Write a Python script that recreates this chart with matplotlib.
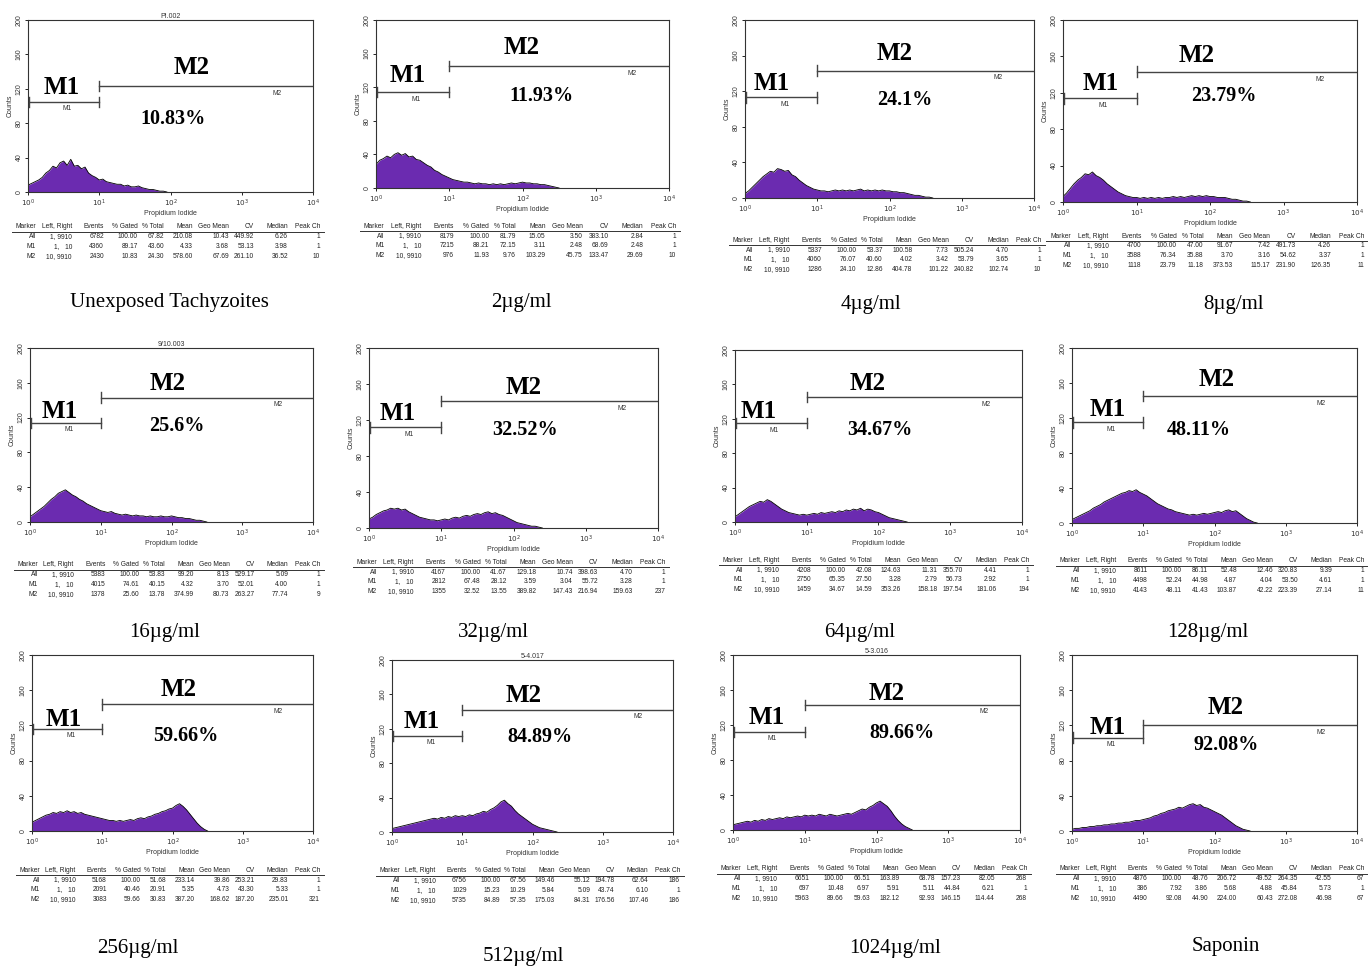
import numpy as np
import matplotlib
matplotlib.use("Agg")
import matplotlib.pyplot as plt

W, H = 1368, 966

# panel captions and gated percentages
captions = ["Unexposed Tachyzoites", "2µg/ml", "4µg/ml", "8µg/ml",
            "16µg/ml", "32µg/ml", "64µg/ml", "128µg/ml",
            "256µg/ml", "512µg/ml", "1024µg/ml", "Saponin"]
pct_labels = ["10.83%", "11.93%", "24.1%", "23.79%", "25.6%", "32.52%",
              "34.67%", "48.11%", "59.66%", "84.89%", "89.66%", "92.08%"]
file_titles = ["PI.002", "", "", "", "9/10.003", "", "", "", "", "5-4.017", "5-3.016", ""]

# marker bar heights (counts)
m1_level = [105, 114, 113, 114, 114, 112, 115, 115, 116, 112, 112, 106]
m2_level = [123, 145, 143, 143, 143, 141, 145, 145, 144, 142, 143, 120]

# histogram counts, one value every 0.05 decade starting at 10^0
LOG_STEP = 0.05
hist_ctrl = [8, 10, 12, 14, 17, 22, 25, 30, 28, 34, 36, 31, 38, 30, 31, 27, 29, 22, 19, 17,
             14, 15, 12, 11, 10, 9, 9, 7, 8, 6, 6, 7, 5, 4, 3, 3, 2, 1, 1, 0]
hist_2 = [28, 33, 35, 38, 36, 40, 42, 39, 41, 37, 38, 34, 33, 30, 27, 25, 21, 19, 16, 14,
          12, 10, 9, 8, 7, 7, 6, 5, 6, 5, 5, 4, 5, 4, 5, 4, 5, 6, 5, 6,
          7, 6, 6, 5, 5, 4, 4, 3, 2, 1, 0]
hist_4 = [5, 8, 12, 16, 20, 24, 27, 30, 29, 33, 32, 30, 31, 26, 24, 20, 17, 14, 12, 10,
          9, 8, 8, 7, 8, 9, 8, 9, 8, 9, 8, 9, 10, 8, 9, 8, 9, 8, 9, 8,
          8, 7, 7, 6, 6, 5, 4, 3, 3, 2, 1, 1, 0]
hist_8 = [6, 10, 15, 20, 24, 27, 31, 30, 33, 29, 27, 24, 20, 17, 14, 11, 9, 7, 6, 5,
          5, 4, 5, 4, 5, 4, 5, 4, 5, 5, 6, 5, 6, 5, 6, 7, 6, 7, 6, 7,
          6, 6, 5, 5, 5, 4, 3, 3, 2, 1, 1, 0]
hist_16 = [6, 9, 12, 15, 18, 22, 26, 29, 33, 35, 37, 34, 31, 29, 26, 24, 21, 19, 17, 15,
           13, 12, 11, 12, 10, 9, 8, 9, 8, 7, 8, 7, 7, 6, 7, 6, 6, 7, 6, 6,
           7, 6, 5, 5, 4, 4, 3, 2, 2, 1, 0]
hist_32 = [10, 12, 15, 17, 19, 20, 22, 21, 22, 20, 21, 18, 16, 14, 12, 11, 10, 9, 9, 8,
           9, 10, 9, 11, 12, 11, 13, 14, 13, 15, 16, 15, 17, 18, 16, 17, 15, 14, 12, 10,
           8, 6, 5, 4, 3, 2, 2, 1, 0]
hist_64 = [6, 9, 12, 15, 18, 20, 22, 24, 23, 26, 24, 21, 18, 15, 13, 11, 10, 9, 8, 9,
           8, 9, 10, 9, 11, 10, 11, 12, 11, 13, 12, 14, 13, 15, 14, 16, 13, 15, 14, 12,
           11, 9, 7, 5, 4, 3, 2, 1, 0]
hist_128 = [4, 6, 8, 10, 12, 14, 17, 19, 21, 24, 26, 28, 30, 32, 34, 35, 37, 36, 38, 35,
            33, 31, 28, 25, 22, 20, 18, 16, 15, 13, 12, 11, 10, 9, 10, 9, 10, 11, 10, 11,
            12, 13, 12, 14, 15, 13, 14, 11, 8, 5, 3, 1, 0]
hist_256 = [10, 12, 14, 16, 18, 19, 21, 20, 22, 21, 23, 21, 22, 20, 21, 19, 18, 17, 16, 15,
            14, 13, 12, 12, 11, 12, 11, 12, 13, 12, 14, 15, 14, 16, 17, 19, 20, 22, 23, 25,
            26, 29, 31, 28, 24, 19, 14, 9, 5, 2, 0]
hist_512 = [4, 5, 6, 7, 8, 9, 10, 11, 12, 13, 14, 15, 16, 15, 17, 16, 18, 17, 19, 18,
            19, 18, 20, 19, 21, 22, 24, 23, 26, 28, 31, 35, 37, 33, 30, 25, 21, 18, 15, 12,
            9, 7, 5, 4, 3, 2, 1, 0]
hist_1024 = [6, 7, 8, 9, 10, 9, 11, 10, 12, 11, 13, 12, 13, 14, 13, 15, 14, 15, 16, 15,
             17, 16, 17, 16, 18, 17, 16, 18, 17, 16, 17, 18, 19, 18, 20, 22, 24, 23, 26, 28,
             31, 33, 30, 27, 22, 16, 11, 7, 4, 2, 0]
hist_sap = [2, 3, 3, 4, 4, 5, 5, 6, 6, 7, 7, 8, 8, 9, 9, 10, 10, 11, 12, 12,
            13, 14, 15, 17, 18, 20, 21, 23, 24, 25, 27, 26, 28, 30, 31, 29, 30, 27, 26, 24,
            22, 20, 18, 15, 12, 9, 6, 4, 2, 1, 0]

# statistics tables (All, M1, M2)
tab_header = ["Marker", "Left, Right", "Events", "% Gated", "% Total", "Mean",
              "Geo Mean", "CV", "Median", "Peak Ch"]
tab_ctrl = [["All", "1, 9910", "6782", "100.00", "67.82", "210.08", "10.43", "449.92", "6.26", "1"],
            ["M1", "1,   10", "4360", "89.17", "43.60", "4.33", "3.68", "53.13", "3.98", "1"],
            ["M2", "10, 9910", "2430", "10.83", "24.30", "578.60", "67.69", "261.10", "36.52", "10"]]
tab_2 = [["All", "1, 9910", "8179", "100.00", "81.79", "15.05", "3.50", "383.10", "2.84", "1"],
         ["M1", "1,   10", "7215", "88.21", "72.15", "3.11", "2.48", "68.69", "2.48", "1"],
         ["M2", "10, 9910", "976", "11.93", "9.76", "103.29", "45.75", "133.47", "29.69", "10"]]
tab_4 = [["All", "1, 9910", "5337", "100.00", "53.37", "100.58", "7.73", "505.24", "4.70", "1"],
         ["M1", "1,   10", "4060", "76.07", "40.60", "4.02", "3.42", "53.79", "3.65", "1"],
         ["M2", "10, 9910", "1286", "24.10", "12.86", "404.78", "101.22", "240.82", "102.74", "10"]]
tab_8 = [["All", "1, 9910", "4700", "100.00", "47.00", "91.67", "7.42", "491.73", "4.26", "1"],
         ["M1", "1,   10", "3588", "76.34", "35.88", "3.70", "3.16", "54.62", "3.37", "1"],
         ["M2", "10, 9910", "1118", "23.79", "11.18", "373.53", "115.17", "231.90", "126.35", "11"]]
tab_16 = [["All", "1, 9910", "5383", "100.00", "53.83", "99.20", "8.13", "529.17", "5.09", "1"],
          ["M1", "1,   10", "4015", "74.61", "40.15", "4.32", "3.70", "52.01", "4.00", "1"],
          ["M2", "10, 9910", "1378", "25.60", "13.78", "374.99", "80.73", "263.27", "77.74", "9"]]
tab_32 = [["All", "1, 9910", "4167", "100.00", "41.67", "129.18", "10.74", "398.63", "4.70", "1"],
          ["M1", "1,   10", "2812", "67.48", "28.12", "3.59", "3.04", "55.72", "3.28", "1"],
          ["M2", "10, 9910", "1355", "32.52", "13.55", "389.82", "147.43", "216.94", "159.63", "237"]]
tab_64 = [["All", "1, 9910", "4208", "100.00", "42.08", "124.63", "11.31", "355.70", "4.41", "1"],
          ["M1", "1,   10", "2750", "65.35", "27.50", "3.28", "2.79", "56.73", "2.92", "1"],
          ["M2", "10, 9910", "1459", "34.67", "14.59", "353.26", "158.18", "197.54", "181.06", "194"]]
tab_128 = [["All", "1, 9910", "8611", "100.00", "86.11", "52.48", "12.46", "320.83", "9.39", "1"],
           ["M1", "1,   10", "4498", "52.24", "44.98", "4.87", "4.04", "53.50", "4.61", "1"],
           ["M2", "10, 9910", "4143", "48.11", "41.43", "103.87", "42.22", "223.39", "27.14", "11"]]
tab_256 = [["All", "1, 9910", "5168", "100.00", "51.68", "233.14", "39.86", "253.21", "29.83", "1"],
           ["M1", "1,   10", "2091", "40.46", "20.91", "5.35", "4.73", "43.30", "5.33", "1"],
           ["M2", "10, 9910", "3083", "59.66", "30.83", "387.20", "168.62", "187.20", "235.01", "321"]]
tab_512 = [["All", "1, 9910", "6756", "100.00", "67.56", "149.46", "55.12", "194.78", "62.64", "186"],
           ["M1", "1,   10", "1029", "15.23", "10.29", "5.84", "5.09", "43.74", "6.10", "1"],
           ["M2", "10, 9910", "5735", "84.89", "57.35", "175.03", "84.31", "176.56", "107.46", "186"]]
tab_1024 = [["All", "1, 9910", "6651", "100.00", "66.51", "163.89", "68.78", "157.23", "82.05", "268"],
            ["M1", "1,   10", "697", "10.48", "6.97", "5.91", "5.11", "44.84", "6.21", "1"],
            ["M2", "10, 9910", "5963", "89.66", "59.63", "182.12", "92.93", "146.15", "114.44", "268"]]
tab_sap = [["All", "1, 9910", "4876", "100.00", "48.76", "206.72", "49.52", "264.35", "42.55", "67"],
           ["M1", "1,   10", "386", "7.92", "3.86", "5.68", "4.88", "45.84", "5.73", "1"],
           ["M2", "10, 9910", "4490", "92.08", "44.90", "224.00", "60.43", "272.08", "46.98", "67"]]

hists = [hist_ctrl, hist_2, hist_4, hist_8, hist_16, hist_32, hist_64, hist_128,
         hist_256, hist_512, hist_1024, hist_sap]
tables = [tab_ctrl, tab_2, tab_4, tab_8, tab_16, tab_32, tab_64, tab_128,
          tab_256, tab_512, tab_1024, tab_sap]

# layout in pixels
boxes = [(28, 20, 313, 192), (376, 20, 669, 188), (745, 20, 1034, 198), (1063, 20, 1357, 202),
         (30, 348, 313, 522), (369, 348, 658, 528), (735, 350, 1022, 522), (1072, 348, 1357, 523),
         (32, 655, 313, 831), (392, 660, 673, 832), (733, 655, 1020, 830), (1072, 655, 1357, 831)]
table_y = [227, 226, 240, 236, 565, 562, 560, 561, 870, 871, 869, 869]
m1_pos = [(62, 88), (408, 76), (772, 83), (1101, 83), (60, 411), (398, 414),
          (759, 412), (1108, 409), (64, 719), (422, 722), (767, 718), (1108, 728)]
m2_pos = [(192, 68), (522, 48), (895, 54), (1197, 56), (168, 383), (524, 388),
          (868, 383), (1217, 380), (179, 690), (524, 696), (887, 693), (1226, 708)]
pct_pos = [(173, 119), (541, 96), (905, 100), (1224, 96), (177, 426), (525, 430),
           (880, 430), (1199, 430), (186, 736), (540, 737), (902, 733), (1226, 745)]
cap_pos = [(169, 303), (521, 303), (871, 304), (1234, 304), (165, 633), (493, 633),
           (860, 633), (1208, 633), (138, 949), (523, 957), (895, 949), (1226, 947)]
col_right = [8, 44, 76, 110, 136, 165, 201, 226, 260, 292]  # per 285 px of axis width

SERIF = "Liberation Serif"
SANS = "Liberation Sans"
PURPLE = "#6b2bb0"
LINE = "#444444"

fig = plt.figure(figsize=(W / 100, H / 100), dpi=100)
fig.patch.set_facecolor("white")


def fx(x):
    return x / W


def fy(y):
    return 1 - y / H


for i in range(12):
    x0, y0, x1, y1 = boxes[i]
    ax = fig.add_axes([fx(x0), fy(y1), (x1 - x0) / W, (y1 - y0) / H])
    counts = np.array(hists[i], dtype=float)
    xs = 10 ** (np.arange(len(counts)) * LOG_STEP)
    ax.fill_between(xs, counts, color=PURPLE, lw=0)
    ax.plot(xs, counts, color="black", lw=0.6)

    ax.set_xscale("log")
    ax.set_xlim(1, 1e4)
    ax.set_ylim(0, 200)
    ax.set_yticks([0, 40, 80, 120, 160, 200])
    ax.set_yticklabels(["0", "40", "80", "120", "160", "200"], rotation=90,
                       va="center", fontsize=5, family=SANS, color="#333333")
    ax.set_xticks([1, 10, 100, 1000, 10000])
    ax.set_xticklabels(["$10^0$", "$10^1$", "$10^2$", "$10^3$", "$10^4$"],
                       fontsize=5.2, color="#333333")
    ax.minorticks_off()
    ax.tick_params(length=2.5, width=0.6, pad=1.5)
    ax.set_xlabel("Propidium Iodide", fontsize=5, family=SANS, labelpad=0.5, color="#333333")
    ax.set_ylabel("Counts", fontsize=5, family=SANS, labelpad=1, color="#333333")
    for s in ax.spines.values():
        s.set_linewidth(0.8)
        s.set_color("#333333")
    if file_titles[i]:
        ax.set_title(file_titles[i], fontsize=5, family=SANS, pad=1.5, color="#333333")

    # marker brackets
    a, b = m1_level[i], m2_level[i]
    ax.plot([1, 10], [a, a], color=LINE, lw=1)
    ax.plot([1.02, 1.02], [a - 6, a + 6], color=LINE, lw=1)
    ax.plot([10, 10], [a - 6, a + 6], color=LINE, lw=1)
    ax.plot([10, 1e4], [b, b], color=LINE, lw=1)
    ax.plot([10, 10], [b - 6, b + 6], color=LINE, lw=1)
    ax.text(10 ** 0.55, a - 4, "M1", fontsize=4.8, family=SANS, ha="center", va="top", color="#333333")
    ax.text(10 ** 3.5, b - 4, "M2", fontsize=4.8, family=SANS, ha="center", va="top", color="#333333")

    # big labels
    fig.text(fx(m1_pos[i][0]), fy(m1_pos[i][1]), "M1", fontsize=18, fontweight="bold",
             family=SERIF, ha="center", va="center")
    fig.text(fx(m2_pos[i][0]), fy(m2_pos[i][1]), "M2", fontsize=18, fontweight="bold",
             family=SERIF, ha="center", va="center")
    fig.text(fx(pct_pos[i][0]), fy(pct_pos[i][1]), pct_labels[i], fontsize=14.5,
             fontweight="bold", family=SERIF, ha="center", va="center")
    fig.text(fx(cap_pos[i][0]), fy(cap_pos[i][1]), captions[i], fontsize=15,
             family=SERIF, ha="center", va="center")

    # statistics table
    w = x1 - x0
    ty = table_y[i]
    cols = [x0 + c * w / 285 for c in col_right]
    for c, name in zip(cols, tab_header):
        fig.text(fx(c), fy(ty), name, fontsize=4.8, family=SANS, ha="right",
                 va="center", color="#222222")
    fig.lines.append(plt.Line2D([fx(x0 - 16 * w / 285), fx(x0 + 296 * w / 285)],
                                [fy(ty + 5), fy(ty + 5)], transform=fig.transFigure,
                                color="#333333", lw=0.7))
    for r, row in enumerate(tables[i]):
        yy = ty + 10 + r * 9.8
        for c, val in zip(cols, row):
            fig.text(fx(c), fy(yy), val, fontsize=4.8, family=SANS, ha="right",
                     va="center", color="#222222")

fig.savefig("out.png", dpi=100)
